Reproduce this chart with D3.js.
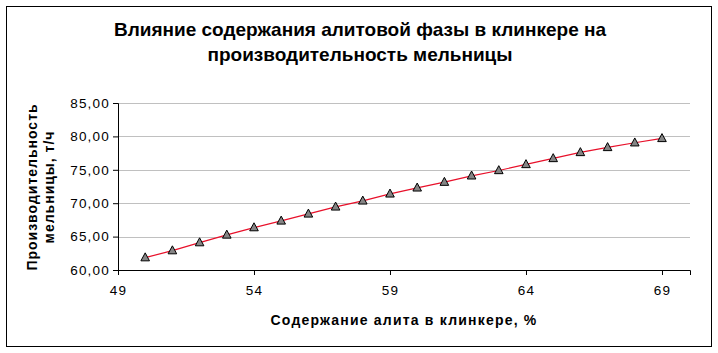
<!DOCTYPE html>
<html>
<head>
<meta charset="utf-8">
<script src="https://cdn.jsdelivr.net/npm/d3@7"></script>
<style>
  body { margin: 0; background: #fff; }
  text { font-family: "Liberation Sans", Arial, sans-serif; }
</style>
</head>
<body>
<div id="chart"></div>
<script>
const alite = [50, 51, 52, 53, 54, 55, 56, 57, 58, 59, 60, 61, 62, 63, 64, 65, 66, 67, 68, 69]
const output = [61.85, 62.9, 64.1, 65.25, 66.35, 67.35, 68.4, 69.45, 70.35, 71.4,
  72.3, 73.15, 74.1, 74.9, 75.8, 76.7, 77.6, 78.35, 79.05, 79.7]
const xTicks = [49, 54, 59, 64, 69]
const yTicks = [60, 65, 70, 75, 80, 85]

const W = 718, H = 353
const MARGIN = { TOP: 103, BOTTOM: 83, LEFT: 118, RIGHT: 28 }
const WIDTH = W - MARGIN.LEFT - MARGIN.RIGHT
const HEIGHT = H - MARGIN.TOP - MARGIN.BOTTOM

const svg = d3.select('#chart').append('svg')
  .attr('width', W)
  .attr('height', H)

svg.append('rect')
  .attr('x', 6.5).attr('y', 6.5)
  .attr('width', 705).attr('height', 340)
  .attr('fill', '#fff').attr('stroke', '#000')

svg.append('text')
  .attr('x', 360).attr('y', 36)
  .attr('text-anchor', 'middle')
  .attr('font-size', 19).attr('font-weight', 'bold')
  .text('Влияние содержания алитовой фазы в клинкере на')
svg.append('text')
  .attr('x', 360).attr('y', 61)
  .attr('text-anchor', 'middle')
  .attr('font-size', 19).attr('font-weight', 'bold')
  .text('производительность мельницы')

const g = svg.append('g')
  .attr('transform', `translate(${MARGIN.LEFT}, ${MARGIN.TOP})`)

const x = d3.scaleLinear().domain([49, 70.03]).range([0, WIDTH])
const y = d3.scaleLinear().domain([60, 85]).range([HEIGHT, 0])

// gridlines
g.selectAll('.grid')
  .data(yTicks.filter(d => d > 60))
  .enter().append('line')
    .attr('x1', 0).attr('x2', WIDTH)
    .attr('y1', d => Math.round(y(d)) + 0.5)
    .attr('y2', d => Math.round(y(d)) + 0.5)
    .attr('stroke', '#c0c0c0')

const fmt = d => d.toFixed(2).replace('.', ',')

const yAxis = g.append('g')
  .call(d3.axisLeft(y).tickValues(yTicks).tickFormat(fmt).tickSize(5).tickPadding(3))
const xAxis = g.append('g')
  .attr('transform', `translate(0, ${HEIGHT})`)
  .call(d3.axisBottom(x).tickValues(xTicks).tickFormat(d3.format('d')).tickSize(5).tickPadding(10))

;[yAxis, xAxis].forEach(a => {
  a.select('.domain').attr('stroke', '#000')
  a.selectAll('line').attr('stroke', '#000')
  a.selectAll('text')
    .attr('font-size', 13.5)
    .attr('letter-spacing', 1.2)
    .attr('fill', '#000')
    .attr('font-family', '"Liberation Sans", Arial, sans-serif')
})

const pts = alite.map((a, i) => ({ a, v: output[i] }))

g.append('path')
  .datum(pts)
  .attr('fill', 'none')
  .attr('stroke', '#e8102a')
  .attr('stroke-width', 1.2)
  .attr('d', d3.line().x(d => x(d.a)).y(d => y(d.v)))

g.selectAll('.marker')
  .data(pts)
  .enter().append('path')
    .attr('transform', d => `translate(${x(d.a)}, ${y(d.v)})`)
    .attr('d', 'M0,-4.8L4.3,3.2L-4.3,3.2Z')
    .attr('fill', '#858585')
    .attr('stroke', '#000')
    .attr('stroke-width', 1)

// axis titles
svg.append('text')
  .attr('x', MARGIN.LEFT + WIDTH / 2).attr('y', 325)
  .attr('text-anchor', 'middle')
  .attr('font-size', 14).attr('font-weight', 'bold')
  .attr('letter-spacing', 1.2)
  .text('Содержание алита в клинкере, %')

const yt = svg.append('text')
  .attr('transform', 'translate(37, 187) rotate(-90)')
  .attr('text-anchor', 'middle')
  .attr('font-size', 14).attr('font-weight', 'bold')
  .attr('letter-spacing', 1)
yt.append('tspan').attr('x', 0).attr('dy', 0).text('Производительность')
yt.append('tspan').attr('x', 0).attr('dy', 17).text('мельницы, т/ч')
</script>
</body>
</html>
